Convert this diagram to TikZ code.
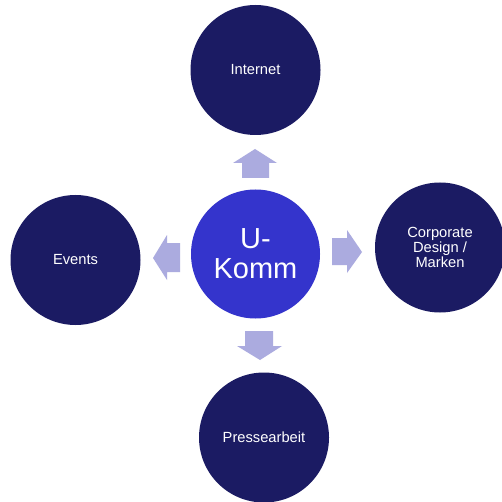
\documentclass[tikz,border=0pt]{standalone}
\usepackage{fontspec}
\setmainfont{Liberation Sans}
\definecolor{navy}{HTML}{1B1B63}
\definecolor{core}{HTML}{3434CC}
\definecolor{arrowc}{HTML}{ABABDF}
\begin{document}
\begin{tikzpicture}[x=1pt,y=-1pt,
  outer/.style={circle,fill=navy,minimum size=130pt,inner sep=0pt,text=white,font=\fontsize{14.7}{15}\selectfont,align=center},
  inner/.style={circle,fill=core,minimum size=129pt,inner sep=0pt,text=white,font=\fontsize{29}{30}\selectfont,align=center},
  blockarrow/.style={fill=arrowc}]
\useasboundingbox[fill=white] (0,0) rectangle (501,502);
\node[inner] (c) at (255.5,254) {U-\\Komm};
\node[outer] (top) at (255.5,70) {Internet};
\node[outer] (right) at (440,247.5) {Corporate\\Design /\\Marken};
\node[outer] (left) at (75.5,260) {Events};
\node[outer] (bottom) at (264,437.5) {Pressearbeit};
% up arrow
\fill[blockarrow] (242,178) -- (242,163) -- (233,163) -- (255,149) -- (277,163) -- (269,163) -- (269,178) -- cycle;
% right arrow
\fill[blockarrow] (332,238) -- (347,238) -- (347,230) -- (362,252) -- (347,273) -- (347,265) -- (332,265) -- cycle;
% down arrow
\fill[blockarrow] (245,331) -- (273,331) -- (273,346) -- (282,346) -- (260,360) -- (237,346) -- (245,346) -- cycle;
% left arrow
\fill[blockarrow] (180,243) -- (167,243) -- (167,235) -- (153,258) -- (167,280) -- (167,272) -- (180,272) -- cycle;
\end{tikzpicture}
\end{document}
